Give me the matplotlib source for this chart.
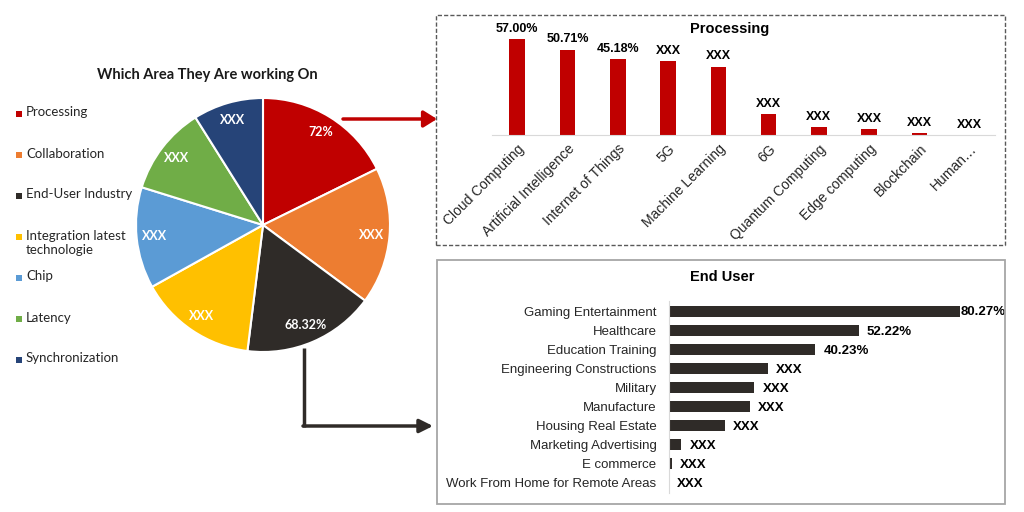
import matplotlib
matplotlib.use("Agg")
import matplotlib.pyplot as plt
from matplotlib.patches import Rectangle, FancyArrowPatch
from matplotlib.lines import Line2D
import numpy as np

# pie: which area they are working on
pie_labels = ["Processing", "Collaboration", "End-User Industry",
              "Integration latest\ntechnologie", "Chip", "Latency", "Synchronization"]
pie_values = [72, 70.9, 68.32, 60.8, 52.4, 45.8, 36.3]
pie_texts = ["72%", "XXX", "68.32%", "XXX", "XXX", "XXX", "XXX"]
pie_colors = ["#C00000", "#ED7D31", "#2F2B28", "#FFC000", "#5B9BD5", "#70AD47", "#264478"]

# processing breakdown
proc_labels = ["Cloud Computing", "Artificial Intelligence", "Internet of Things", "5G",
               "Machine Learning", "6G", "Quantum Computing", "Edge computing",
               "Blockchain", "Human\u2026"]
proc_values = [57.00, 50.71, 45.18, 44.0, 40.6, 12.3, 4.6, 3.6, 1.2, 0.0]
proc_texts = ["57.00%", "50.71%", "45.18%", "XXX", "XXX", "XXX", "XXX", "XXX", "XXX", "XXX"]

# end user breakdown
user_labels = ["Gaming Entertainment", "Healthcare", "Education Training",
               "Engineering Constructions", "Military", "Manufacture",
               "Housing Real Estate", "Marketing Advertising", "E commerce",
               "Work From Home for Remote Areas"]
user_values = [80.27, 52.22, 40.23, 27.2, 23.5, 22.3, 15.3, 3.4, 0.8, 0.0]
user_texts = ["80.27%", "52.22%", "40.23%", "XXX", "XXX", "XXX", "XXX", "XXX", "XXX", "XXX"]

W, H = 1024, 512
ARIAL = "Liberation Sans"
CALIBRI = "Lato"


def fx(x):
    return x / W


def fy(y):
    return 1 - y / H


def box(l, t, r, b):
    # pixel box -> figure rect
    return [fx(l), fy(b), (r - l) / W, (b - t) / H]


fig = plt.figure(figsize=(10.24, 5.12), dpi=100)

# ---------------- pie ----------------
ax_pie = fig.add_axes(box(136, 98, 390, 352))
wedges, _ = ax_pie.pie(pie_values, colors=pie_colors, startangle=90, counterclock=False,
                       radius=1, wedgeprops=dict(edgecolor="white", linewidth=1.5))
for w, t in zip(wedges, pie_texts):
    ang = np.deg2rad((w.theta1 + w.theta2) / 2)
    ax_pie.text(0.86 * np.cos(ang), 0.86 * np.sin(ang), t, color="white",
                ha="center", va="center", fontsize=9, fontweight="bold", family=CALIBRI)
ax_pie.set_xlim(-1, 1)
ax_pie.set_ylim(-1, 1)
ax_pie.set_aspect("equal")
ax_pie.axis("off")

fig.text(fx(207), fy(75), "Which Area They Are working On", ha="center", va="center",
         fontsize=10.5, fontweight="bold", family=CALIBRI, color="#1a1a1a")

# legend drawn by hand so the two-line entry keeps the spacing
for i, (lab, col) in enumerate(zip(pie_labels, pie_colors)):
    y = 114 + 41 * i
    fig.add_artist(Rectangle((fx(16), fy(y + 3)), 6 / W, 6 / H, transform=fig.transFigure,
                             facecolor=col, edgecolor="none"))
    fig.text(fx(26), fy(y - 7.5), lab, ha="left", va="top", fontsize=9.5,
             family=CALIBRI, color="#262626", linespacing=1.25)

# ---------------- processing bars ----------------
ax_p = fig.add_axes(box(492, 35, 995, 135))
xp = np.arange(len(proc_labels))
ax_p.bar(xp, proc_values, width=0.31, color="#C00000")
for x, v, t in zip(xp, proc_values, proc_texts):
    ax_p.annotate(t, (x, v), xytext=(0, 3), textcoords="offset points", ha="center",
                  va="bottom", fontsize=9, fontweight="bold", family=ARIAL, annotation_clip=False)
ax_p.set_xlim(-0.5, len(proc_labels) - 0.5)
ax_p.set_ylim(0, 59.4)
ax_p.set_xticks(xp)
ax_p.set_xticklabels(proc_labels, rotation=45, ha="right", rotation_mode="anchor",
                     fontsize=10, family=ARIAL, color="#262626")
ax_p.tick_params(axis="x", length=0, pad=5)
ax_p.set_yticks([])
for s in ["top", "right", "left"]:
    ax_p.spines[s].set_visible(False)
ax_p.spines["bottom"].set_color("#d9d9d9")
fig.text(fx(730), fy(29), "Processing", ha="center", va="center", fontsize=10.5,
         fontweight="bold", family=ARIAL)

fig.add_artist(Rectangle((fx(436), fy(245)), (1005 - 436) / W, (245 - 15) / H,
                         transform=fig.transFigure, fill=False, edgecolor="#595959",
                         linewidth=1, linestyle=(0, (3, 1.5))))

# ---------------- end user bars ----------------
ax_u = fig.add_axes(box(669, 301.5, 1000, 492.5))
yu = np.arange(len(user_labels))
ax_u.barh(yu, user_values, height=0.58, color="#2F2B28")
vmax = max(user_values)
for y, v, t in zip(yu, user_values, user_texts):
    pad = 0.5 if v == vmax else 6
    ax_u.annotate(t, (v, y), xytext=(pad, -1), textcoords="offset points", ha="left",
                  va="center", fontsize=9.5, fontweight="bold", family=ARIAL, annotation_clip=False)
ax_u.set_ylim(len(user_labels) - 0.5, -0.5)
ax_u.set_xlim(0, 91.2)
ax_u.set_yticks(yu)
ax_u.set_yticklabels(user_labels, fontsize=9.5, family=ARIAL, color="#262626")
ax_u.tick_params(axis="y", length=0, pad=9)
ax_u.set_xticks([])
for s in ["top", "right", "bottom"]:
    ax_u.spines[s].set_visible(False)
ax_u.spines["left"].set_color("#d9d9d9")
fig.text(fx(722), fy(277), "End User", ha="center", va="center", fontsize=10.5,
         fontweight="bold", family=ARIAL)

fig.add_artist(Rectangle((fx(437), fy(504)), (1005 - 437) / W, (504 - 260) / H,
                         transform=fig.transFigure, fill=False, edgecolor="#a6a6a6",
                         linewidth=1.3))

# ---------------- arrows ----------------
fig.add_artist(FancyArrowPatch((fx(343), fy(119)), (fx(437), fy(119)), transform=fig.transFigure,
                               arrowstyle="-|>,head_length=8,head_width=5", mutation_scale=1,
                               color="#C00000", linewidth=2.5, shrinkA=0, shrinkB=0))
fig.add_artist(Line2D([fx(304), fx(304)], [fy(348), fy(427)], transform=fig.transFigure,
                      color="#2F2B28", linewidth=2.5, solid_capstyle="butt"))
fig.add_artist(FancyArrowPatch((fx(303), fy(426)), (fx(433), fy(426)), transform=fig.transFigure,
                               arrowstyle="-|>,head_length=8,head_width=4", mutation_scale=1,
                               color="#2F2B28", linewidth=2.5, shrinkA=0, shrinkB=0))

fig.savefig("out.png", dpi=100)
